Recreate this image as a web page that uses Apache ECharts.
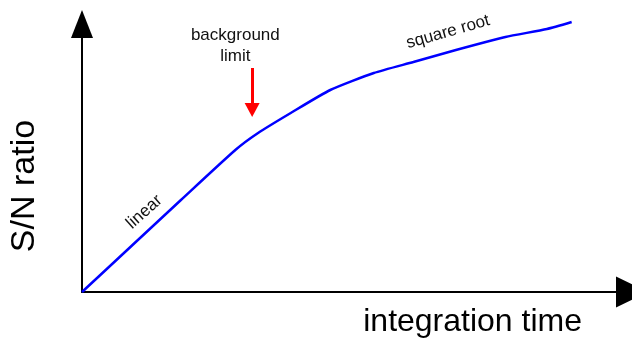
<!DOCTYPE html>
<html>
<head>
<meta charset="utf-8">
<script src="https://cdn.jsdelivr.net/npm/echarts@6/dist/echarts.min.js"></script>
<style>
  html, body { margin: 0; padding: 0; background: #fff; }
  #main { width: 632px; height: 345px; }
</style>
</head>
<body>
<div id="main"></div>
<script>
// integration time (arbitrary units) and S/N ratio
var timeVals = [0, 50, 100, 155, 178, 211, 251, 295, 335, 378, 428, 470, 495];
var snVals = [0, 46, 92, 142, 159, 179, 202, 219, 230, 242, 255, 263, 270];

// annotations: [text, x, y] in data units
var linearLabel = ['linear', 63, 80];
var sqrtLabel = ['square root', 370, 260];
var limitLabel = ['background\nlimit', 155, 246];
var limitArrow = [[172, 224], [172, 182]];

var fontName = '"Liberation Sans", Arial, sans-serif';

var chart = echarts.init(document.getElementById('main'), null, { renderer: 'canvas' });

var curve = timeVals.map(function (t, i) { return [t, snVals[i]]; });

var option = {
  animation: false,
  grid: {
    left: 82,
    right: -6,
    top: 24,
    bottom: 53
  },
  xAxis: {
    type: 'value',
    min: 0,
    max: 556,
    name: 'integration time',
    nameLocation: 'end',
    nameGap: -50,
    nameTextStyle: {
      fontFamily: fontName,
      fontSize: 32,
      color: '#000',
      align: 'right',
      verticalAlign: 'top',
      padding: [14, 0, 0, 0]
    },
    axisLine: {
      lineStyle: { color: '#000', width: 2 },
      symbol: ['none', 'triangle'],
      symbolSize: [31, 32]
    },
    axisTick: { show: false },
    axisLabel: { show: false },
    splitLine: { show: false }
  },
  yAxis: {
    type: 'value',
    min: 0,
    max: 268,
    name: 'S/N ratio',
    nameLocation: 'middle',
    nameGap: 40,
    nameTextStyle: {
      fontFamily: fontName,
      fontSize: 34,
      color: '#000',
      padding: [0, 56, 0, 0]
    },
    axisLine: {
      lineStyle: { color: '#000', width: 2 },
      symbol: ['none', 'triangle'],
      symbolSize: [22, 28]
    },
    axisTick: { show: false },
    axisLabel: { show: false },
    splitLine: { show: false }
  },
  series: [
    {
      type: 'line',
      data: curve,
      clip: false,
      smooth: 0.2,
      showSymbol: false,
      lineStyle: { color: '#0000ff', width: 2.5 },
      silent: true,
      markPoint: {
        symbol: 'circle',
        symbolSize: 0,
        silent: true,
        label: {
          show: true,
          position: 'inside',
          fontFamily: fontName,
          fontSize: 17,
          color: '#111'
        },
        data: [
          { coord: [linearLabel[1], linearLabel[2]], value: linearLabel[0],
            label: { formatter: linearLabel[0], rotate: 42 } },
          { coord: [sqrtLabel[1], sqrtLabel[2]], value: sqrtLabel[0],
            label: { formatter: sqrtLabel[0], rotate: 16 } },
          { coord: [limitLabel[1], limitLabel[2]], value: limitLabel[0],
            label: { formatter: limitLabel[0], lineHeight: 21, align: 'center' } }
        ]
      },
      markLine: {
        silent: true,
        symbol: ['none', 'triangle'],
        symbolSize: [15, 14],
        label: { show: false },
        lineStyle: { color: '#ff0000', width: 3, type: 'solid' },
        emphasis: { disabled: true },
        data: [
          [{ coord: limitArrow[0] }, { coord: limitArrow[1] }]
        ]
      }
    }
  ]
};

chart.setOption(option);
</script>
</body>
</html>
